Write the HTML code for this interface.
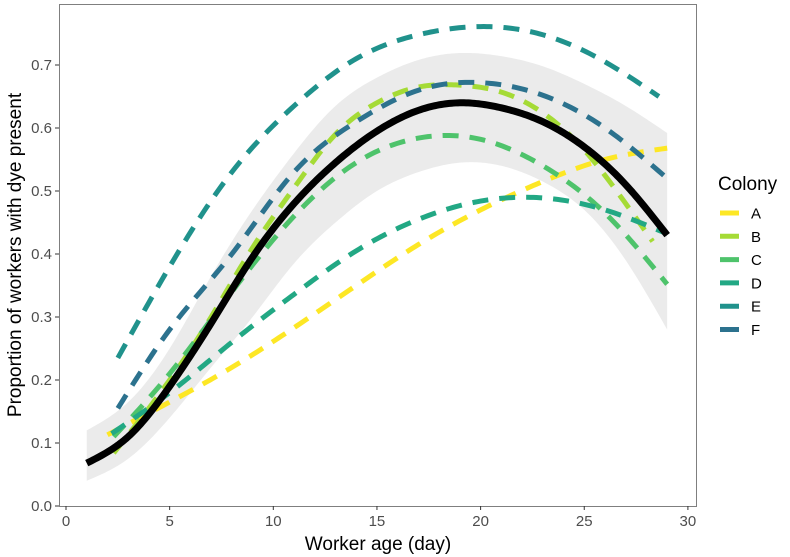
<!DOCTYPE html>
<html><head><meta charset="utf-8">
<style>
body{margin:0;background:#fff;}
svg{display:block;font-family:"Liberation Sans",Arial,sans-serif;}
</style></head>
<body>
<svg id="chart" width="790" height="557" viewBox="0 0 790 557">
<rect x="0" y="0" width="790" height="557" fill="#fff"/>
<g id="plot"></g>
<rect x="59.5" y="4.5" width="637" height="502" fill="none" stroke="#7f7f7f" stroke-width="1"/>
<g id="axes"></g>
<text x="378" y="550" text-anchor="middle" font-size="19" fill="#000">Worker age (day)</text>
<text transform="translate(21,255) rotate(-90)" text-anchor="middle" font-size="19" fill="#000">Proportion of workers with dye present</text>
<g id="legend">
<text x="718" y="190" font-size="19" fill="#000">Colony</text>
</g>
</svg>
<script>
const colonies = ["A","B","C","D","E","F"];
const colors = ["#FDE725","#A5DB36","#4EC36B","#22A884","#20928C","#2C728E"];
const ageA = [2,5,8,11,14,17,20,23,26,29];
const valA = [0.113,0.165,0.22,0.283,0.35,0.415,0.47,0.515,0.55,0.568];
const ageB = [2.3,5,7,9,11,13,15,17,19,21,23,25,27,28.3];
const valB = [0.084,0.2,0.3,0.41,0.505,0.59,0.64,0.665,0.668,0.657,0.624,0.565,0.48,0.42];
const ageC = [2.3,5,8,11,14,17,20,23,26,29];
const valC = [0.11,0.21,0.34,0.46,0.545,0.584,0.582,0.54,0.465,0.352];
const ageD = [2.2,5,8,11,14,17,20,23,26,29];
const valD = [0.115,0.18,0.26,0.336,0.405,0.455,0.484,0.489,0.47,0.432];
const ageE = [2.5,5,8,11,14,17,20,23,26,28.6];
const valE = [0.235,0.38,0.53,0.635,0.71,0.748,0.761,0.748,0.705,0.65];
const ageF = [2.5,5,8,11,14,17,20,23,26,29];
const valF = [0.155,0.28,0.4,0.53,0.61,0.66,0.672,0.652,0.6,0.52];
const meanAge = [1,3,5,7,9,11,13,15,17,19,21,23,25,27,29];
const meanVal = [0.068,0.11,0.19,0.29,0.395,0.48,0.545,0.595,0.628,0.64,0.632,0.61,0.57,0.51,0.43];
const ribUpper = [0.12,0.165,0.25,0.365,0.47,0.56,0.635,0.68,0.708,0.719,0.714,0.698,0.67,0.635,0.592];
const ribLower = [0.04,0.075,0.14,0.22,0.3,0.385,0.45,0.5,0.53,0.545,0.54,0.515,0.47,0.39,0.28];
const xTicks = [0,5,10,15,20,25,30];
const yTicks = [0,0.1,0.2,0.3,0.4,0.5,0.6,0.7];

const ns="http://www.w3.org/2000/svg";
function xs(v){return 66+v*20.73;}
function ys(v){return 506-v*630;}
// natural cubic spline through data points, sampled densely
function curve(x,y){
  const n=x.length,h=[],al=[0],l=[1],mu=[0],z=[0],c=new Array(n).fill(0),b=[],d=[];
  for(let i=0;i<n-1;i++)h.push(x[i+1]-x[i]);
  for(let i=1;i<n-1;i++)al.push(3/h[i]*(y[i+1]-y[i])-3/h[i-1]*(y[i]-y[i-1]));
  for(let i=1;i<n-1;i++){l[i]=2*(x[i+1]-x[i-1])-h[i-1]*mu[i-1];mu[i]=h[i]/l[i];z[i]=(al[i]-h[i-1]*z[i-1])/l[i];}
  for(let j=n-2;j>=0;j--){c[j]=(j<n-2||true)?(z[j]||0)-(mu[j]||0)*c[j+1]:0;b[j]=(y[j+1]-y[j])/h[j]-h[j]*(c[j+1]+2*c[j])/3;d[j]=(c[j+1]-c[j])/(3*h[j]);}
  c[0]=0;
  for(let j=0;j<n-1;j++){b[j]=(y[j+1]-y[j])/h[j]-h[j]*(c[j+1]+2*c[j])/3;d[j]=(c[j+1]-c[j])/(3*h[j]);}
  const out=[];
  for(let j=0;j<n-1;j++){
    for(let k=0;k<20;k++){
      const t=h[j]*k/20;
      out.push([xs(x[j]+t),ys(y[j]+b[j]*t+c[j]*t*t+d[j]*t*t*t)]);
    }
  }
  out.push([xs(x[n-1]),ys(y[n-1])]);
  return out;
}
function path(p,move){return (move?'M':'L')+p.map(q=>q[0].toFixed(2)+','+q[1].toFixed(2)).join('L');}
const plot=document.getElementById('plot');
const axes=document.getElementById('axes');
const legend=document.getElementById('legend');

const rib=document.createElementNS(ns,'path');
rib.setAttribute('d',path(curve(meanAge,ribUpper),true)+path(curve(meanAge,ribLower).reverse(),false)+'Z');
rib.setAttribute('fill','#ebebeb');


plot.appendChild(rib);

const ages=[ageA,ageB,ageC,ageD,ageE,ageF];
const vals=[valA,valB,valC,valD,valE,valF];
colonies.forEach((c,i)=>{
  const p=document.createElementNS(ns,'path');
  p.setAttribute('d',path(curve(ages[i],vals[i]),true));
  p.setAttribute('fill','none');
  p.setAttribute('stroke',colors[i]);
  p.setAttribute('stroke-width','5');
  p.setAttribute('stroke-dasharray','16 11');
  
  
  plot.appendChild(p);
  const y=213+i*23.3;
  const l=document.createElementNS(ns,'line');
  l.setAttribute('x1',720);l.setAttribute('x2',739);l.setAttribute('y1',y);l.setAttribute('y2',y);
  l.setAttribute('stroke',colors[i]);l.setAttribute('stroke-width','5');
  
  
  legend.appendChild(l);
  const t=document.createElementNS(ns,'text');
  t.setAttribute('x',751);t.setAttribute('y',y+5.5);t.setAttribute('font-size','15');
  t.textContent=c;
  
  
  legend.appendChild(t);
});

const m=document.createElementNS(ns,'path');
m.setAttribute('d',path(curve(meanAge,meanVal),true));
m.setAttribute('fill','none');m.setAttribute('stroke','#000');m.setAttribute('stroke-width','7');


plot.appendChild(m);

xTicks.forEach(v=>{
  const l=document.createElementNS(ns,'line');
  l.setAttribute('x1',xs(v));l.setAttribute('x2',xs(v));l.setAttribute('y1',506);l.setAttribute('y2',510);
  l.setAttribute('stroke','#333');
  
  
  axes.appendChild(l);
  const t=document.createElementNS(ns,'text');
  t.setAttribute('x',xs(v));t.setAttribute('y',526);t.setAttribute('text-anchor','middle');
  t.setAttribute('font-size','15');t.setAttribute('fill','#4d4d4d');t.textContent=v;
  
  
  axes.appendChild(t);
});
yTicks.forEach(v=>{
  const l=document.createElementNS(ns,'line');
  l.setAttribute('x1',55);l.setAttribute('x2',59);l.setAttribute('y1',ys(v));l.setAttribute('y2',ys(v));
  l.setAttribute('stroke','#333');
  
  
  axes.appendChild(l);
  const t=document.createElementNS(ns,'text');
  t.setAttribute('x',52);t.setAttribute('y',ys(v)+5);t.setAttribute('text-anchor','end');
  t.setAttribute('font-size','15');t.setAttribute('fill','#4d4d4d');t.textContent=v.toFixed(1);
  
  
  axes.appendChild(t);
});
</script>
</body></html>
